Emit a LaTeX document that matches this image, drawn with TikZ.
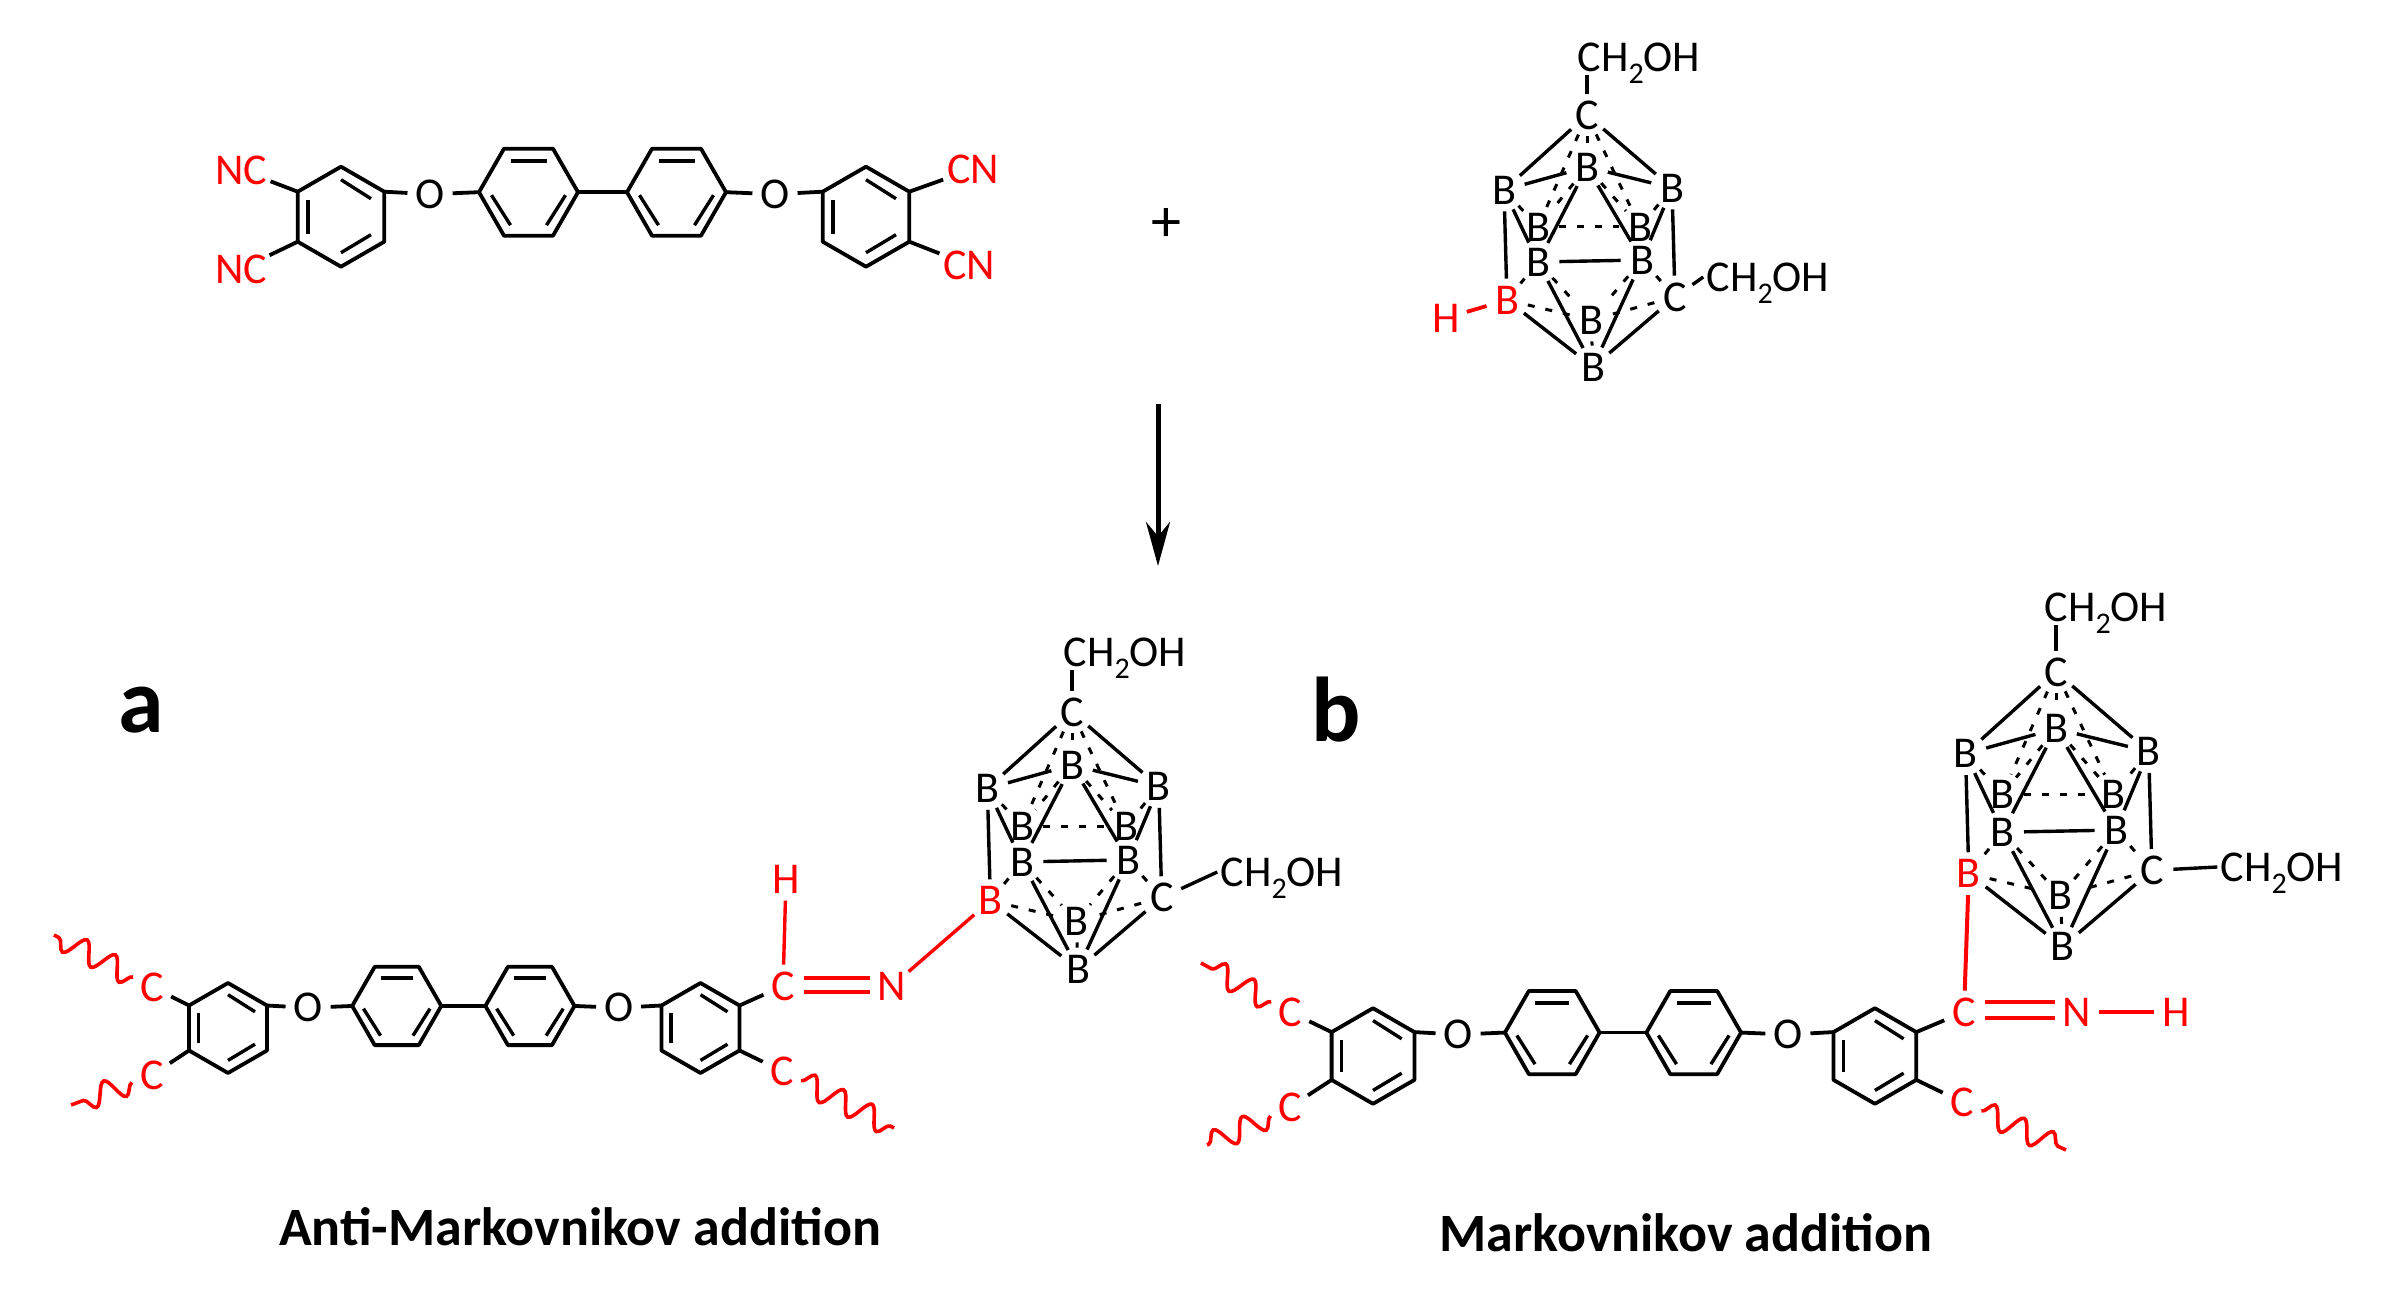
\documentclass[tikz,border=0pt]{standalone}
\usepackage{fontspec}
\setmainfont{Carlito}
\usetikzlibrary{arrows.meta,decorations.pathmorphing}
\definecolor{rd}{RGB}{255,0,0}
\tikzset{
  bond/.style={line width=1.9pt,line join=round},
  cbond/.style={line width=1.7pt},
  dbond/.style={line width=1.5pt,dash pattern=on 3.5pt off 5.5pt},
  rbond/.style={line width=1.7pt,color=rd},
  wavy/.style={line width=1.8pt,color=rd,decorate,decoration={snake,amplitude=5.6pt,segment length=16pt}},
  atom/.style={circle,inner sep=0.6pt,minimum size=21pt,font=\fontsize{22}{22}\selectfont},
  ratom/.style={atom,text=rd},
  ch/.style={inner sep=1.5pt,font=\fontsize{22}{22}\selectfont},
  title/.style={font=\bfseries\fontsize{27}{28}\selectfont,inner sep=0pt},
  letter/.style={font=\bfseries\fontsize{46}{46}\selectfont,inner sep=0pt}
}
\newcommand\chtext{CH\smash{\raisebox{-0.27em}{\fontsize{15}{15}\selectfont 2}}OH}
\newcommand\pointyring[3]{%
  \begin{scope}[shift={(#1,#2)}]
    \coordinate (#3ul) at (-43.3,-25);
    \coordinate (#3ll) at (-43.3,25);
    \coordinate (#3ur) at (43.3,-25);
    \coordinate (#3lr) at (43.3,25);
    \draw[bond] (0,-50) -- (#3ur) -- (#3lr) -- (0,50) -- (#3ll) -- (#3ul) -- cycle;
    \draw[cbond] (-33,-17) -- (-33,17);
    \draw[cbond] (0,-37) -- (30,-18);
    \draw[cbond] (0,36) -- (30,18);
  \end{scope}}
\newcommand\flatring[3]{%
  \begin{scope}[shift={(#1,#2)}]
    \coordinate (#3l) at (-49.5,0);
    \coordinate (#3r) at (49.5,0);
    \draw[bond] (#3l) -- (-24.5,-43.5) -- (24.5,-43.5) -- (#3r) -- (24.5,43.5) -- (-24.5,43.5) -- cycle;
    \draw[cbond] (-18,-31) -- (18,-31);
    \draw[cbond] (-37,3) -- (-18,33);
    \draw[cbond] (37,3) -- (18,33);
  \end{scope}}
% prefix, x, y, scale
\newcommand\chainmol[4]{%
  \begin{scope}[shift={(#2,#3)},scale=#4]
    \pointyring{0}{0}{#1A}
    \flatring{187.5}{-24.5}{#1B}
    \flatring{335.5}{-24.5}{#1C}
    \pointyring{525}{0}{#1D}
    \node[atom] (#1o) at (89,-22.5) {O};
    \node[atom] (#1p) at (434,-22.5) {O};
  \end{scope}
  \draw[bond] (#1Aur) -- (#1o);
  \draw[bond] (#1o) -- (#1Bl);
  \draw[bond] (#1Br) -- (#1Cl);
  \draw[bond] (#1Cr) -- (#1p);
  \draw[bond] (#1p) -- (#1Dul);}
% prefix, x, y, scale, CH2OH top x,y, CH2OH right x,y
\newcommand\carborane[8]{%
  \begin{scope}[shift={(#2,#3)},scale=#4]
    \node[atom] (#1ct) at (0,0) {C};
    \node[atom] (#1bt) at (0,52) {B};
    \node[atom] (#1bl) at (-83,75) {B};
    \node[atom] (#1br) at (85,73) {B};
    \node[atom] (#1bul) at (-49,112) {B};
    \node[atom] (#1bur) at (53,112) {B};
    \node[atom] (#1bll) at (-49,147) {B};
    \node[atom] (#1blr) at (55,145) {B};
    \node[ratom] (#1rb) at (-80,185) {B};
    \node[atom] (#1cr) at (88,182) {C};
    \node[atom] (#1blm) at (4,205) {B};
    \node[atom] (#1bb) at (6,252) {B};
  \end{scope}
  \node[ch] (#1cha) at (#5,#6) {\chtext};
  \node[ch] (#1chb) at (#7,#8) {\chtext};
  \draw[cbond] (#1ct.north) -- (#1ct.north |- #1cha.south);
  \draw[cbond] (#1cr) -- (#1chb.west);
  \foreach \u/\v in {ct/bl,ct/br,bt/bl,bt/br,bt/bll,bt/blr,bl/bll,br/blr,bl/rb,br/cr,bll/blr,bll/bb,blr/bb,rb/bb,cr/bb}
    \draw[cbond] (#1\u) -- (#1\v);
  \foreach \u/\v in {ct/bt,ct/bul,ct/bur,bl/bul,br/bur,bt/bul,bt/bur,bul/bur,bll/blm,blr/blm,rb/blm,cr/blm,bll/rb,blr/cr,blm/bb}
    \draw[dbond] (#1\u) -- (#1\v);}
\begin{document}
\begin{tikzpicture}[x=0.5pt,y=-0.5pt]
\useasboundingbox (0,0) rectangle (2388,1304);

% ---- reactant 1
\chainmol{t}{341}{216.7}{1}
\node[ratom] (tn1) at (241,170) {NC};
\node[ratom] (tn2) at (241,269) {NC};
\node[ratom] (tn3) at (973,169) {CN};
\node[ratom] (tn4) at (969,265) {CN};
\draw[bond] (tAul) -- (tn1);
\draw[bond] (tAll) -- (tn2);
\draw[bond] (tDur) -- (tn3);
\draw[bond] (tDlr) -- (tn4);

\node[font=\fontsize{30}{30}\selectfont,inner sep=0pt] (plus) at (1166,225) {+};

% ---- reactant 2
\carborane{u}{1587}{115}{1}{1639}{57}{1768}{277}
\node[atom,text=rd] (uh) at (1446,318) {H};
\draw[line width=1.9pt,rd] (uh) -- (urb);

% ---- arrow
\coordinate (as) at (1158,404);
\coordinate (ae) at (1158,566);
\draw[line width=2.5pt,-{Stealth[length=22pt,width=12pt]}] (as) -- (ae);

% ---- product a
\node[letter] (la) at (141,710) {a};
\chainmol{a}{228}{1028}{0.9}
\node[ratom] (ac1) at (152,987) {C};
\node[ratom] (ac2) at (152,1075) {C};
\node[ratom] (ac3) at (783,986) {C};
\node[ratom] (an) at (892,986) {N};
\node[ratom] (ah) at (786,879) {H};
\node[ratom] (ac4) at (782,1071) {C};
\draw[bond] (aAul) -- (ac1);
\draw[bond] (aAll) -- (ac2);
\draw[bond] (aDur) -- (ac3);
\draw[bond] (aDlr) -- (ac4);
\draw[rbond] (ac3) -- (ah);
\draw[rbond] ([yshift=4pt]ac3.east) -- ([yshift=4pt]an.west);
\draw[line width=2.4pt,rd] ([yshift=-3pt]ac3.east) -- ([yshift=-3pt]an.west);
\coordinate (aw1) at (54,935);
\coordinate (aw2) at (71,1105);
\coordinate (aw3) at (894,1128);
\draw[wavy] (ac1) -- (aw1);
\draw[wavy] (ac2) -- (aw2);
\draw[wavy] (ac4) -- (aw3);
\carborane{v}{1072}{712}{1.02}{1125}{652}{1282}{872}
\draw[rbond] (an) -- (vrb);
\node[title] (ta) at (580,1227) {Anti-Markovnikov addition};

% ---- product b
\node[letter] (lb) at (1336,710) {b};
\chainmol{b}{1373}{1056}{0.956}
\node[ratom] (bc1) at (1290,1012) {C};
\node[ratom] (bc2) at (1290,1107) {C};
\node[ratom] (bc3) at (1964,1012) {C};
\node[ratom] (bn) at (2077,1012) {N};
\node[ratom] (bh) at (2176,1012) {H};
\node[ratom] (bc4) at (1962,1102) {C};
\draw[bond] (bAul) -- (bc1);
\draw[bond] (bAll) -- (bc2);
\draw[bond] (bDur) -- (bc3);
\draw[bond] (bDlr) -- (bc4);
\draw[rbond] ([yshift=5pt]bc3.east) -- ([yshift=5pt]bn.west);
\draw[rbond] ([yshift=-3pt]bc3.east) -- ([yshift=-3pt]bn.west);
\draw[line width=2.2pt,rd] (bn) -- (bh);
\coordinate (bw1) at (1201,963);
\coordinate (bw2) at (1207,1145);
\coordinate (bw3) at (2066,1150);
\draw[wavy] (bc1) -- (bw1);
\draw[wavy] (bc2) -- (bw2);
\draw[wavy] (bc4) -- (bw3);
\carborane{w}{2056}{672}{1.09}{2106}{607}{2282}{867}
\draw[line width=2pt,rd] (wrb) -- (bc3);
\node[title] (tb) at (1686,1233) {Markovnikov addition};
\end{tikzpicture}
\end{document}
